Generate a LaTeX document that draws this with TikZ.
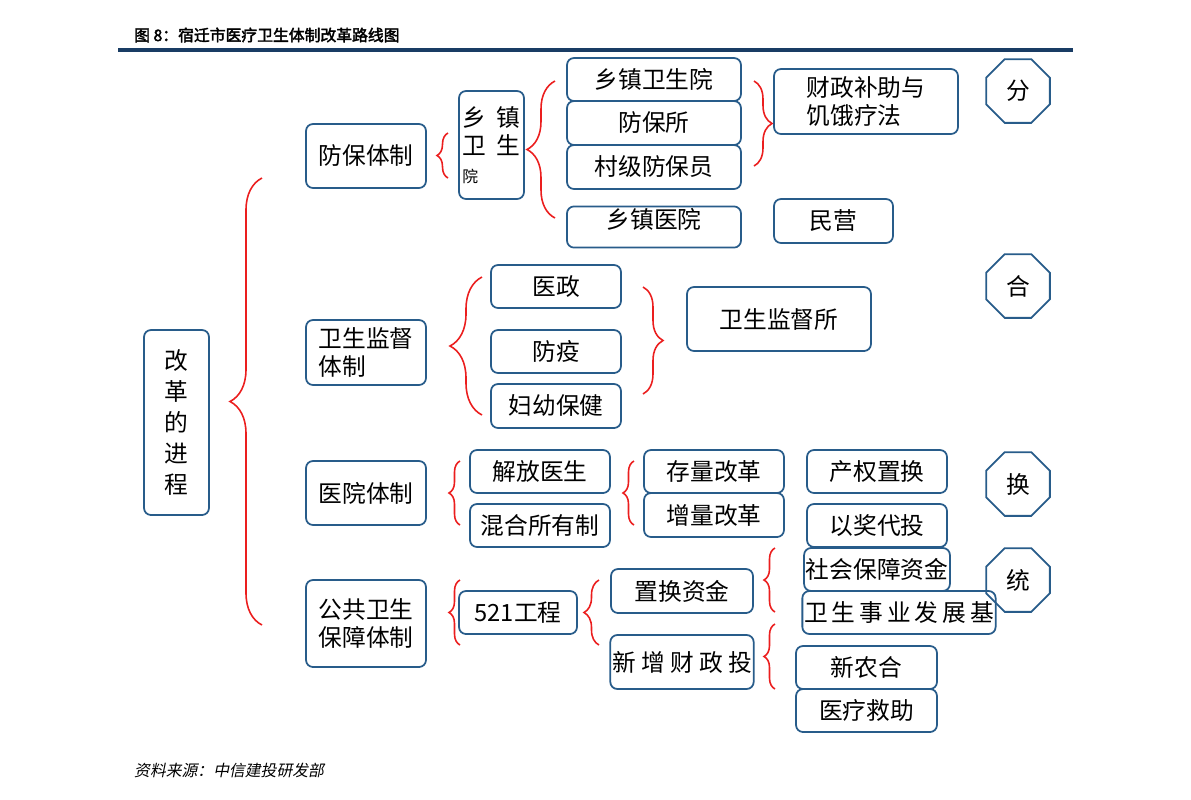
\documentclass[tikz,border=0pt]{standalone}
\usepackage{fontspec}
\setmainfont{Noto Sans CJK SC}[AutoFakeBold=2.5, AutoFakeSlant=0.2]
\usepackage{tikz}
\usetikzlibrary{shapes.geometric,decorations.pathreplacing,positioning}
\definecolor{boxblue}{RGB}{40,92,138}
\definecolor{titlenavy}{RGB}{25,60,100}
\definecolor{bracered}{RGB}{235,30,30}

\begin{document}
\begin{tikzpicture}[
    x=0.02cm, y=-0.02cm,
    % rounded boxes
    box/.style={rectangle, rounded corners=4pt, draw=boxblue, line width=1pt,
        text centered, inner sep=1pt, font=\fontsize{13.5}{16}\selectfont},
    sz/.style 2 args={minimum width=#1*0.02cm, minimum height=#2*0.02cm},
    % octagon markers
    octo/.style={regular polygon, regular polygon sides=8, draw=boxblue,
        line width=1pt, minimum size=1.38cm, inner sep=0pt,
        font=\fontsize{13.5}{16}\selectfont},
    % red braces
    brc/.style={draw=bracered, line width=0.9pt, decorate,
        decoration={brace, amplitude=#1*0.02cm}},
    brc/.default=12
]
    \useasboundingbox (0,0) rectangle (1191,799);

    % title and rule
    \node[anchor=west, font=\bfseries\fontsize{9}{11}\selectfont] (title) at (128,35) {图 8：宿迁市医疗卫生体制改革路线图};
    \coordinate (ruleL) at (118,50);
    \coordinate (ruleR) at (1073,50);
    \draw[titlenavy, line width=2pt] (ruleL) -- (ruleR);

    % root
    \node[box, sz={65}{185}, align=center, font=\fontsize{13.5}{17.6}\selectfont] (root) at (176.5,422.5) {改\\革\\的\\进\\程};

    % level 1
    \node[box, sz={120}{64}] (fangbao) at (366,156) {防保体制};
    \node[box, sz={120}{65}, align=left] (jiandu) at (366,352.5) {卫生监督\\体制};
    \node[box, sz={120}{64}] (yiyuan) at (366,493) {医院体制};
    \node[box, sz={120}{87}, align=left] (gonggong) at (366,623.5) {公共卫生\\保障体制};

    % 防保体制 branch
    \node[box, sz={65}{108}, align=left] (xzwsy) at (491.5,145) {乡\ \ 镇\\卫\ \ 生\\{\small 院}};
    \node[box, sz={174}{43}] (weishengyuan) at (654,79.5) {乡镇卫生院};
    \node[box, sz={174}{44}] (fangbaosuo) at (654,123) {防保所};
    \node[box, sz={174}{44}] (cunji) at (654,167) {村级防保员};
    \node[box, sz={174}{32}, text depth=10pt] (xzyiyuan) at (654,227) {乡镇医院};
    \node[box, sz={184}{65}, align=left] (caizheng) at (866,101.5) {财政补助与\\饥饿疗法};
    \node[box, sz={119}{44}] (minying) at (833.5,221) {民营};

    % 卫生监督体制 branch
    \node[box, sz={130}{43}] (yizheng) at (556,286.5) {医政};
    \node[box, sz={130}{43}] (fangyi) at (556,351.5) {防疫};
    \node[box, sz={130}{44}] (fuyou) at (556,406) {妇幼保健};
    \node[box, sz={184}{64}] (jiandusuo) at (779,319) {卫生监督所};

    % 医院体制 branch
    \node[box, sz={140}{43}] (jiefang) at (540,471.5) {解放医生};
    \node[box, sz={140}{43}] (hunhe) at (540,525.5) {混合所有制};
    \node[box, sz={140}{43}] (cunliang) at (714,471.5) {存量改革};
    \node[box, sz={140}{44}] (zengliang) at (714,515) {增量改革};
    \node[box, sz={140}{43}] (chanquan) at (877,471.5) {产权置换};
    \node[box, sz={140}{43}] (yijiang) at (877,525.5) {以奖代投};

    % 公共卫生保障体制 branch
    \node[box, sz={118}{43}] (gc521) at (518,612.5) {521工程};
    \node[box, sz={142}{44}] (zhihuan) at (682,591) {置换资金};
    \node[box, sz={142}{54}] (xinzeng) at (682,662) {新\ 增\ 财\ 政\ 投};
    \node[box, sz={140}{43}] (shebao) at (877,569.5) {社会保障资金};
    \node[box, sz={184}{43}] (fazhan) at (899,612.5) {卫\,生\,事\,业\,发\,展\,基};
    \node[box, sz={141}{43}] (xinnonghe) at (866.5,667.5) {新农合};
    \node[box, sz={141}{43}] (jiuzhu) at (866.5,710.5) {医疗救助};

    % octagons
    \node[octo] (fen) at (1018,91) {分};
    \node[octo] (he) at (1018,286) {合};
    \node[octo] (huan) at (1018,484) {换};
    \node[octo] (tong) at (1018,580) {统};

    % braces (tip left: drawn upward; tip right: drawn downward)
    \draw[brc=32] (262,625) -- (262,178);
    \draw[brc=11] (448,178) -- (448,133);
    \draw[brc=28] (555,218) -- (555,81);
    \draw[brc=18] (754,81) -- (754,166);
    \draw[brc=32] (482,415) -- (482,277);
    \draw[brc=20] (643,287) -- (643,394);
    \draw[brc=11] (460,525) -- (460,461);
    \draw[brc=11] (634,525) -- (634,461);
    \draw[brc=11] (460,645) -- (460,580);
    \draw[brc=15] (599,645) -- (599,580);
    \draw[brc=11] (775,612) -- (775,548);
    \draw[brc=11] (775,689) -- (775,624);

    % source
    \node[anchor=west, font=\itshape\fontsize{9}{11}\selectfont] (source) at (128,770) {资料来源：中信建投研发部};
\end{tikzpicture}
\end{document}
